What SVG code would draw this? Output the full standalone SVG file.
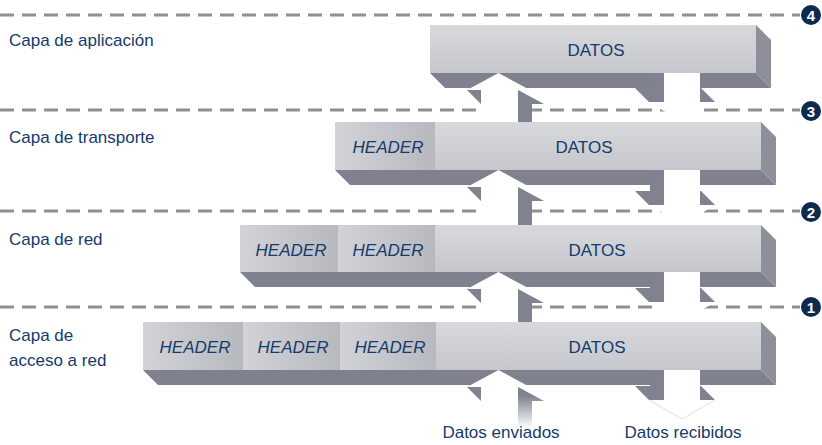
<svg xmlns="http://www.w3.org/2000/svg" width="822" height="445" viewBox="0 0 822 445">
<defs>
<linearGradient id="gData" x1="0" y1="0" x2="0" y2="1">
<stop offset="0" stop-color="#d7d9dd"/><stop offset="1" stop-color="#c5c7cc"/>
</linearGradient>
<linearGradient id="gHead" x1="0" y1="0" x2="1" y2="0">
<stop offset="0" stop-color="#d1d3d7"/><stop offset="1" stop-color="#b7b9bf"/>
</linearGradient>
<linearGradient id="gFade" x1="0" y1="0" x2="0" y2="1">
<stop offset="0" stop-color="#ffffff" stop-opacity="0"/><stop offset="1" stop-color="#ffffff" stop-opacity="1"/>
</linearGradient>
<style>
.dash{stroke:#909090;stroke-width:2.8;stroke-dasharray:14 8;fill:none}
.top{fill:url(#gData)}
.hdr{fill:url(#gHead)}
.bot{fill:#7f828e}
.side{fill:#8d909b}
.w{fill:#ffffff}
.g{fill:#80838f}
.edge{fill:none;stroke:#dfe0e4;stroke-width:1}
.lbl{font-family:"Liberation Sans",Arial,sans-serif;font-size:17px;fill:#153a6b}
.it{font-style:italic}
.mid{text-anchor:middle}
.num{fill:#0d2b4e}
.nt{font-family:"Liberation Sans",Arial,sans-serif;font-size:15px;font-weight:bold;fill:#ffffff;text-anchor:middle}
</style>
</defs>
<rect width="822" height="445" fill="#ffffff"/>

<g id="guides">
<line class="dash" x1="0" y1="15" x2="800" y2="15"/>
<line class="dash" x1="0" y1="110" x2="800" y2="110"/>
<line class="dash" x1="0" y1="211" x2="800" y2="211"/>
<line class="dash" x1="0" y1="307" x2="800" y2="307"/>
</g>

<g id="level-markers">
<g id="m4"><circle class="num" cx="811" cy="15" r="10"/><text class="nt" x="811" y="20.5">4</text></g>
<g id="m3"><circle class="num" cx="811" cy="111" r="10"/><text class="nt" x="811" y="116.5">3</text></g>
<g id="m2"><circle class="num" cx="811" cy="212" r="10"/><text class="nt" x="811" y="217.5">2</text></g>
<g id="m1"><circle class="num" cx="811" cy="307" r="10"/><text class="nt" x="811" y="312.5">1</text></g>
</g>

<g id="layer-labels">
<text class="lbl" x="9" y="46">Capa de aplicación</text>
<text class="lbl" x="9" y="143">Capa de transporte</text>
<text class="lbl" x="9" y="245">Capa de red</text>
<text class="lbl" x="9" y="341">Capa de</text>
<text class="lbl" x="9" y="366">acceso a red</text>
</g>

<g id="box-aplicacion">
<polygon class="bot" points="430,73 756,73 771,88 445,88"/>
<polygon class="side" points="756,25 771,40 771,88 756,73"/>
<rect class="top" x="430" y="25" width="326" height="48"/>
<text class="lbl mid" x="596" y="56">DATOS</text>
</g>

<g id="box-transporte">
<polygon class="bot" points="335,170 761,170 776,185 350,185"/>
<polygon class="side" points="761,122 776,137 776,185 761,170"/>
<rect class="top" x="335" y="122" width="426" height="48"/>
<rect class="hdr" x="335" y="122" width="100" height="48"/>
<text class="lbl it mid" x="388" y="153">HEADER</text>
<text class="lbl mid" x="584" y="153">DATOS</text>
</g>

<g id="box-red">
<polygon class="bot" points="240,272 761,272 776,287 255,287"/>
<polygon class="side" points="761,225 776,240 776,287 761,272"/>
<rect class="top" x="240" y="225" width="521" height="47"/>
<rect class="hdr" x="240" y="225" width="98" height="47"/>
<rect class="hdr" x="338" y="225" width="97" height="47"/>
<text class="lbl it mid" x="291" y="256">HEADER</text>
<text class="lbl it mid" x="388" y="256">HEADER</text>
<text class="lbl mid" x="597" y="256">DATOS</text>
</g>

<g id="box-acceso">
<polygon class="bot" points="143,370 761,370 776,385 158,385"/>
<polygon class="side" points="761,322 776,337 776,385 761,370"/>
<rect class="top" x="143" y="322" width="618" height="48"/>
<rect class="hdr" x="143" y="322" width="100" height="48"/>
<rect class="hdr" x="243" y="322" width="97" height="48"/>
<rect class="hdr" x="340" y="322" width="96" height="48"/>
<text class="lbl it mid" x="195" y="353">HEADER</text>
<text class="lbl it mid" x="293" y="353">HEADER</text>
<text class="lbl it mid" x="390" y="353">HEADER</text>
<text class="lbl mid" x="597" y="353">DATOS</text>
</g>

<g id="connectors">
<g id="up-43">
<polygon class="g" points="498.5,73 512.5,87 544,104 532,104 532,122 481,122 481,104 467,90"/>
<polygon class="w" points="498.5,73 530,90 518,90 518,122 481,122 481,90 467,90"/>
</g>
<g id="up-32">
<polygon class="g" points="498.5,170 512.5,184 544,201 532,201 532,225 481,225 481,201 467,187"/>
<polygon class="w" points="498.5,170 530,187 518,187 518,225 481,225 481,187 467,187"/>
</g>
<g id="up-21">
<polygon class="g" points="498.5,272 512.5,286 544,303 532,303 532,322 481,322 481,303 467,289"/>
<polygon class="w" points="498.5,272 530,289 518,289 518,322 481,322 481,289 467,289"/>
</g>
<g id="up-in">
<polygon class="g" points="498.5,370 512.5,384 544,401 532,401 532,428 481,428 481,401 467,387"/>
<polygon class="w" points="498.5,370 530,387 518,387 518,428 481,428 481,387 467,387"/>
</g>
<g id="down-43">
<polygon class="g" points="650,73 664,73 664,102 649,102 635,88 650,88"/>
<polygon class="g" points="700,88 701,88 715,102 700,102"/>
<polygon class="w" points="664,73 700,73 700,102 715,102 682,122 649,102 664,102"/>
</g>
<g id="down-32">
<polygon class="g" points="650,170 664,170 664,205 649,205 635,191 650,191"/>
<polygon class="g" points="700,191 701,191 715,205 700,205"/>
<polygon class="w" points="664,170 700,170 700,205 715,205 682,225 649,205 664,205"/>
</g>
<g id="down-21">
<polygon class="g" points="650,272 664,272 664,302 649,302 635,288 650,288"/>
<polygon class="g" points="700,288 701,288 715,302 700,302"/>
<polygon class="w" points="664,272 700,272 700,302 715,302 682,322 649,302 664,302"/>
</g>
<g id="down-out">
<polygon class="g" points="650,370 664,370 664,400 649,400 635,386 650,386"/>
<polygon class="g" points="700,386 701,386 715,400 700,400"/>
<polygon class="w" points="664,370 700,370 700,400 715,400 682,419 649,400 664,400"/>
<polyline class="edge" points="649,400 682,419 715,400"/>
</g>
<rect x="455" y="396" width="100" height="32" fill="url(#gFade)"/>
</g>

<g id="flow-labels">
<text class="lbl mid" x="501" y="438">Datos enviados</text>
<text class="lbl mid" x="683" y="438">Datos recibidos</text>
</g>
</svg>
